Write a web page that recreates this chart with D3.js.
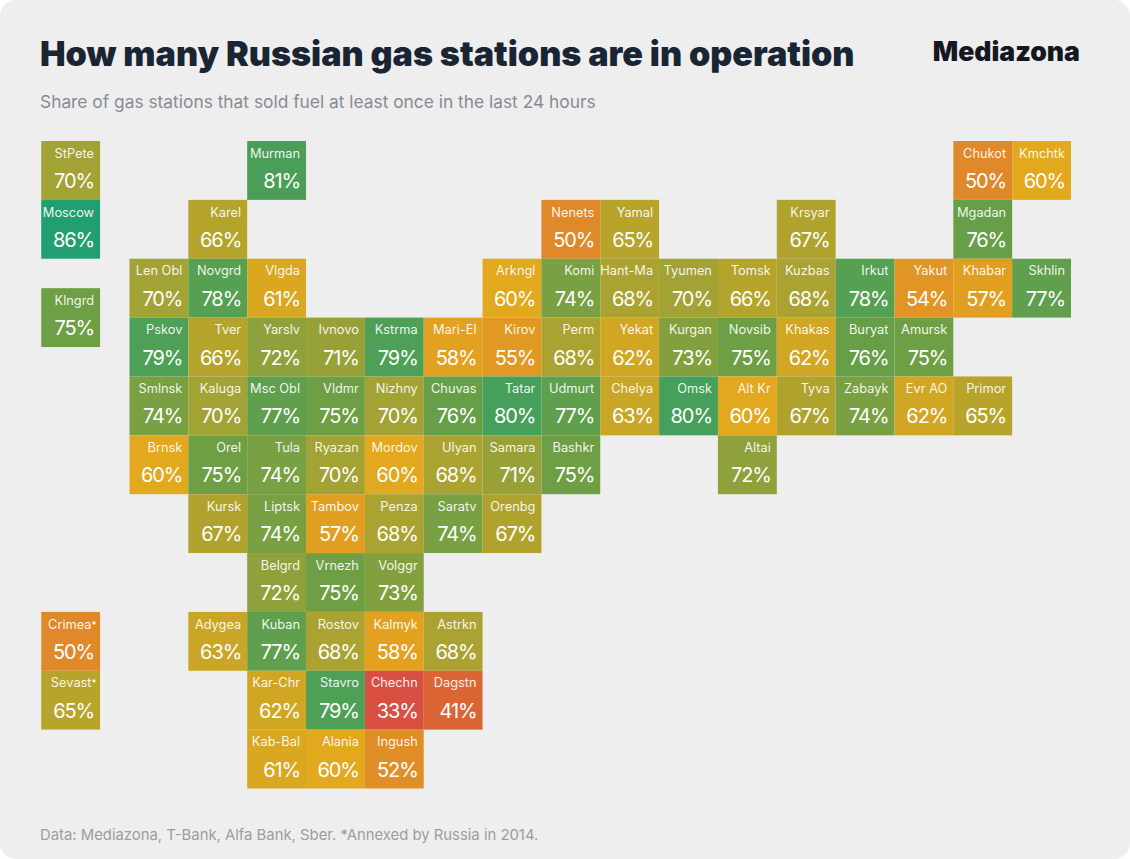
<!DOCTYPE html>
<html>
<head>
<meta charset="utf-8">
<script src="https://cdn.jsdelivr.net/npm/d3@7"></script>
<style>
  html, body { margin: 0; padding: 0; background: #fff; }
  svg { display: block; }
</style>
</head>
<body>
<svg id="chart" width="1130" height="859"></svg>
<script>
// ---- Data
const _ = null;
const mapRows = [
  [_, _, 'Murman', _, _, _, _, _, _, _, _, _, _, _, 'Chukot', 'Kmchtk'],
  [_, 'Karel', _, _, _, _, _, 'Nenets', 'Yamal', _, _, 'Krsyar', _, _, 'Mgadan', _],
  ['Len Obl', 'Novgrd', 'Vlgda', _, _, _, 'Arkngl', 'Komi', 'Hant-Ma', 'Tyumen', 'Tomsk', 'Kuzbas', 'Irkut', 'Yakut', 'Khabar', 'Skhlin'],
  ['Pskov', 'Tver', 'Yarslv', 'Ivnovo', 'Kstrma', 'Mari-El', 'Kirov', 'Perm', 'Yekat', 'Kurgan', 'Novsib', 'Khakas', 'Buryat', 'Amursk', _, _],
  ['Smlnsk', 'Kaluga', 'Msc Obl', 'Vldmr', 'Nizhny', 'Chuvas', 'Tatar', 'Udmurt', 'Chelya', 'Omsk', 'Alt Kr', 'Tyva', 'Zabayk', 'Evr AO', 'Primor', _],
  ['Brnsk', 'Orel', 'Tula', 'Ryazan', 'Mordov', 'Ulyan', 'Samara', 'Bashkr', _, _, 'Altai', _, _, _, _, _],
  [_, 'Kursk', 'Liptsk', 'Tambov', 'Penza', 'Saratv', 'Orenbg', _, _, _, _, _, _, _, _, _],
  [_, _, 'Belgrd', 'Vrnezh', 'Volggr', _, _, _, _, _, _, _, _, _, _, _],
  [_, 'Adygea', 'Kuban', 'Rostov', 'Kalmyk', 'Astrkn', _, _, _, _, _, _, _, _, _, _],
  [_, _, 'Kar-Chr', 'Stavro', 'Chechn', 'Dagstn', _, _, _, _, _, _, _, _, _, _],
  [_, _, 'Kab-Bal', 'Alania', 'Ingush', _, _, _, _, _, _, _, _, _, _, _]
];
// detached tiles to the left of the map: [name, row]
const detachedRegions = ['StPete', 'Moscow', 'Klngrd', 'Crimea', 'Sevast'];
const detachedRows = [0, 1, 2.5, 8, 9];
const footnoted = ['Crimea', 'Sevast'];

const regionNames = [
  'StPete', 'Moscow', 'Klngrd', 'Crimea', 'Sevast',
  'Murman', 'Chukot', 'Kmchtk',
  'Karel', 'Nenets', 'Yamal', 'Krsyar', 'Mgadan',
  'Len Obl', 'Novgrd', 'Vlgda', 'Arkngl', 'Komi', 'Hant-Ma', 'Tyumen', 'Tomsk', 'Kuzbas', 'Irkut', 'Yakut', 'Khabar', 'Skhlin',
  'Pskov', 'Tver', 'Yarslv', 'Ivnovo', 'Kstrma', 'Mari-El', 'Kirov', 'Perm', 'Yekat', 'Kurgan', 'Novsib', 'Khakas', 'Buryat', 'Amursk',
  'Smlnsk', 'Kaluga', 'Msc Obl', 'Vldmr', 'Nizhny', 'Chuvas', 'Tatar', 'Udmurt', 'Chelya', 'Omsk', 'Alt Kr', 'Tyva', 'Zabayk', 'Evr AO', 'Primor',
  'Brnsk', 'Orel', 'Tula', 'Ryazan', 'Mordov', 'Ulyan', 'Samara', 'Bashkr', 'Altai',
  'Kursk', 'Liptsk', 'Tambov', 'Penza', 'Saratv', 'Orenbg',
  'Belgrd', 'Vrnezh', 'Volggr',
  'Adygea', 'Kuban', 'Rostov', 'Kalmyk', 'Astrkn',
  'Kar-Chr', 'Stavro', 'Chechn', 'Dagstn',
  'Kab-Bal', 'Alania', 'Ingush'
];
const shareValues = [
  70, 86, 75, 50, 65,
  81, 50, 60,
  66, 50, 65, 67, 76,
  70, 78, 61, 60, 74, 68, 70, 66, 68, 78, 54, 57, 77,
  79, 66, 72, 71, 79, 58, 55, 68, 62, 73, 75, 62, 76, 75,
  74, 70, 77, 75, 70, 76, 80, 77, 63, 80, 60, 67, 74, 62, 65,
  60, 75, 74, 70, 60, 68, 71, 75, 72,
  67, 74, 57, 68, 74, 67,
  72, 75, 73,
  63, 77, 68, 58, 68,
  62, 79, 33, 41,
  61, 60, 52
];
const colorStops = [33, 41, 50, 60, 65, 70, 75, 80, 81, 86];
const colorRange = ['#d94f41', '#dc6535', '#e0892a', '#e2a81e', '#b8a42a', '#a2a235', '#6f9f45', '#46a05b', '#4a9e58', '#229f70'];

const titleText = 'How many Russian gas stations are in operation';
const subtitleText = 'Share of gas stations that sold fuel at least once in the last 24 hours';
const brandText = 'Mediazona';
const footerText = 'Data: Mediazona, T-Bank, Alfa Bank, Sber. *Annexed by Russia in 2014.';

// ---- Layout
const width = 1130;
const height = 859;
const mapLeft = 129.5;
const mapRight = 1071;
const mapTop = 141;
const mapBottom = 788.5;
const detachedCol = -1.5;
const font = 'Inter, "Noto Sans", sans-serif';

const shareByName = new Map(regionNames.map((n, i) => [n, shareValues[i]]));

const tiles = [];
mapRows.forEach((row, r) => row.forEach((name, c) => {
  if (name) tiles.push({ name, col: c, row: r, share: shareByName.get(name) });
}));
detachedRegions.forEach((name, i) => {
  tiles.push({ name, col: detachedCol, row: detachedRows[i], share: shareByName.get(name) });
});

// ---- Scales
const mapX = d3.scaleLinear().domain([0, mapRows[0].length]).range([mapLeft, mapRight]);
const mapY = d3.scaleLinear().domain([0, mapRows.length]).range([mapTop, mapBottom]);
const color = d3.scaleLinear().domain(colorStops).range(colorRange).clamp(true);
const tileW = mapX(1) - mapX(0);
const tileH = mapY(1) - mapY(0);

const svg = d3.select('#chart');

// ---- Panel
svg.append('rect')
  .attr('width', width)
  .attr('height', height)
  .attr('rx', 16)
  .attr('fill', '#eeeeef');

// ---- Headers
svg.append('text')
  .attr('x', 40)
  .attr('y', 66)
  .attr('font-family', font)
  .attr('font-size', 34.15)
  .attr('font-weight', 900)
  .attr('fill', '#1a2533')
  .text(titleText);

svg.append('text')
  .attr('x', 1080)
  .attr('y', 61)
  .attr('text-anchor', 'end')
  .attr('font-family', font)
  .attr('font-size', 26.6)
  .attr('font-weight', 900)
  .attr('fill', '#16181f')
  .text(brandText);

svg.append('text')
  .attr('x', 40)
  .attr('y', 108)
  .attr('font-family', font)
  .attr('font-size', 17.35)
  .attr('fill', '#868c94')
  .text(subtitleText);

svg.append('text')
  .attr('x', 40)
  .attr('y', 840)
  .attr('font-family', font)
  .attr('font-size', 14.85)
  .attr('fill', '#9a9da3')
  .text(footerText);

// ---- Tiles
const tile = svg.append('g')
  .attr('class', 'tiles')
  .selectAll('g')
  .data(tiles)
  .join('g')
  .attr('transform', d => `translate(${mapX(d.col)}, ${mapY(d.row)})`);

tile.append('rect')
  .attr('width', tileW)
  .attr('height', tileH)
  .attr('fill', d => color(d.share));

const label = tile.append('text')
  .attr('x', d => tileW - (footnoted.includes(d.name) ? 3.5 : 6))
  .attr('y', 16.7)
  .attr('text-anchor', 'end')
  .attr('font-family', font)
  .attr('font-size', 12.8)
  .attr('fill', '#fff')
  .attr('fill-opacity', 0.92)
  .text(d => d.name);

// Crimea and Sevastopol carry a small raised footnote mark
label.filter(d => footnoted.includes(d.name))
  .append('tspan')
  .attr('font-size', 9)
  .attr('font-weight', 700)
  .attr('dy', -1)
  .text('*');

tile.append('text')
  .attr('x', tileW - 6)
  .attr('y', 47)
  .attr('text-anchor', 'end')
  .attr('font-family', font)
  .attr('font-size', 20)
  .attr('letter-spacing', '-1.1px')
  .attr('fill', '#fff')
  .text(d => d.share + '%');
</script>
</body>
</html>
